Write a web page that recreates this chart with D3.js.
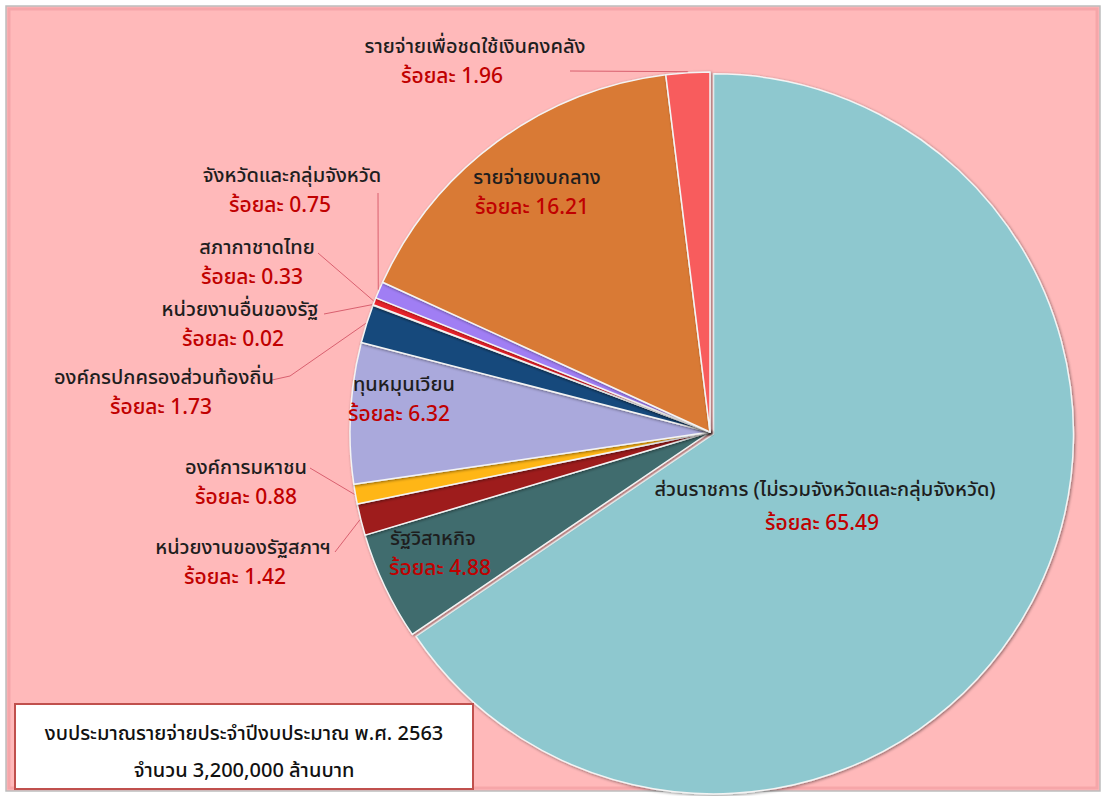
<!DOCTYPE html>
<html>
<head>
<meta charset="utf-8">
<script src="https://cdn.jsdelivr.net/npm/d3@7.9.0/dist/d3.min.js"></script>
<style>
  html, body { margin: 0; padding: 0; background: #fff; }
  svg { display: block; }
  .name { font-family: "Noto Sans Thai", Tahoma, "Noto Sans", sans-serif; font-size: 20px; font-weight: 500; fill: #1e1e1e; }
  .pct { font-family: "Noto Sans Thai", Tahoma, "Noto Sans", sans-serif; font-size: 21px; font-weight: 500; fill: #c00000; }
  .box { font-family: "Noto Sans Thai", Tahoma, "Noto Sans", sans-serif; font-size: 20px; font-weight: 500; fill: #111; }
</style>
</head>
<body>
<svg width="1106" height="796"></svg>
<script>
// budget categories, clockwise from 12 o'clock
const categories = [
  'ส่วนราชการ (ไม่รวมจังหวัดและกลุ่มจังหวัด)',
  'รัฐวิสาหกิจ',
  'หน่วยงานของรัฐสภาฯ',
  'องค์การมหาชน',
  'ทุนหมุนเวียน',
  'องค์กรปกครองส่วนท้องถิ่น',
  'หน่วยงานอื่นของรัฐ',
  'สภากาชาดไทย',
  'จังหวัดและกลุ่มจังหวัด',
  'รายจ่ายงบกลาง',
  'รายจ่ายเพื่อชดใช้เงินคงคลัง'
];
const percents = [65.49, 4.88, 1.42, 0.88, 6.32, 1.73, 0.02, 0.33, 0.75, 16.21, 1.96];
const colors = ['#8ec8cf', '#3f6c6e', '#9e1a1c', '#ffb619', '#aaa9dc', '#184a7c',
                '#f2f2f2', '#e8202a', '#a07ef4', '#d97a36', '#f85b5d'];
const boxLines = ['งบประมาณรายจ่ายประจำปีงบประมาณ พ.ศ. 2563', 'จำนวน 3,200,000 ล้านบาท'];

// label placement: inside labels sit on the slice, outside ones get a leader
// pdx shifts the percentage line relative to the name
const labelPos = [
  { x: 825, y: 490, pdx: -3, inside: true },
  { x: 433, y: 539, pdx: 7, inside: true },
  { x: 243, y: 548, pdx: -8, lead: [[335, 552]] },
  { x: 246, y: 468, pdx: 0, lead: [[310, 468]] },
  { x: 404, y: 385, pdx: -5, inside: true },
  { x: 164, y: 378, pdx: -3, lead: [[272, 380], [290, 376]] },
  { x: 240, y: 310, pdx: -7, lead: [[324, 314]] },
  { x: 257, y: 248, pdx: -5, lead: [[318, 253]] },
  { x: 292, y: 176, pdx: -12, lead: [[378, 193]] },
  { x: 537, y: 178, pdx: -5, inside: true },
  { x: 475, y: 47, pdx: -23, lead: [[570, 71]] }
];

const svg = d3.select('svg');
const cx = 710, cy = 432, R = 360;

// frame
svg.append('rect').attr('x', 6).attr('y', 6).attr('width', 1094).attr('height', 785)
  .attr('fill', '#ffb9ba').attr('stroke', '#bdbdbd').attr('stroke-width', 1.5);
svg.append('rect').attr('x', 9).attr('y', 9).attr('width', 1088).attr('height', 779)
  .attr('fill', 'none').attr('stroke', '#f6a6a9').attr('stroke-width', 3);

const defs = svg.append('defs');
const shadow = defs.append('filter').attr('id', 'shadow')
  .attr('x', '-10%').attr('y', '-10%').attr('width', '120%').attr('height', '120%');
shadow.append('feDropShadow').attr('dx', 1).attr('dy', 1).attr('stdDeviation', 1.5)
  .attr('flood-color', '#000').attr('flood-opacity', 0.45);

const pie = d3.pie().sort(null).value(d => d);
const arcs = pie(percents);
const arc = d3.arc().innerRadius(0).outerRadius(R);

const g = svg.append('g').attr('transform', `translate(${cx},${cy})`);

g.selectAll('path.slice')
  .data(arcs)
  .join('path')
  .attr('class', 'slice')
  .attr('d', arc)
  .attr('fill', (d, i) => colors[i])
  .attr('stroke', '#f4f4f4')
  .attr('stroke-width', 1.5)
  .attr('stroke-linejoin', 'round')
  .attr('filter', 'url(#shadow)')
  .attr('transform', (d, i) => {
    if (i !== 0) return null;
    const a = (d.startAngle + d.endAngle) / 2;
    return `translate(${4 * Math.sin(a)},${-4 * Math.cos(a)})`;
  });

// leader lines
const line = d3.line();
arcs.forEach((d, i) => {
  const p = labelPos[i];
  if (p.inside) return;
  const a = (d.startAngle + d.endAngle) / 2;
  const end = [cx + (R + 1) * Math.sin(a), cy - (R + 1) * Math.cos(a)];
  svg.append('path')
    .attr('d', line([...p.lead, end]))
    .attr('fill', 'none')
    .attr('stroke', '#d9606f')
    .attr('stroke-width', 1);
});

// labels
arcs.forEach((d, i) => {
  const p = labelPos[i];
  const gap = i === 0 ? 34 : 30;
  svg.append('text').attr('class', 'name')
    .attr('x', p.x).attr('y', p.y)
    .attr('text-anchor', 'middle').attr('dominant-baseline', 'middle')
    .text(categories[i]);
  svg.append('text').attr('class', 'pct')
    .attr('x', p.x + p.pdx).attr('y', p.y + gap)
    .attr('text-anchor', 'middle').attr('dominant-baseline', 'middle')
    .text(`ร้อยละ ${d3.format('.2f')(d.data)}`);
});

// caption box
svg.append('rect').attr('x', 15).attr('y', 704).attr('width', 458).attr('height', 85)
  .attr('fill', '#fff').attr('stroke', '#c0504d').attr('stroke-width', 2);
boxLines.forEach((t, i) => {
  svg.append('text').attr('class', 'box')
    .attr('x', 244).attr('y', 734 + i * 37)
    .attr('text-anchor', 'middle').attr('dominant-baseline', 'middle')
    .text(t);
});
</script>
</body>
</html>
